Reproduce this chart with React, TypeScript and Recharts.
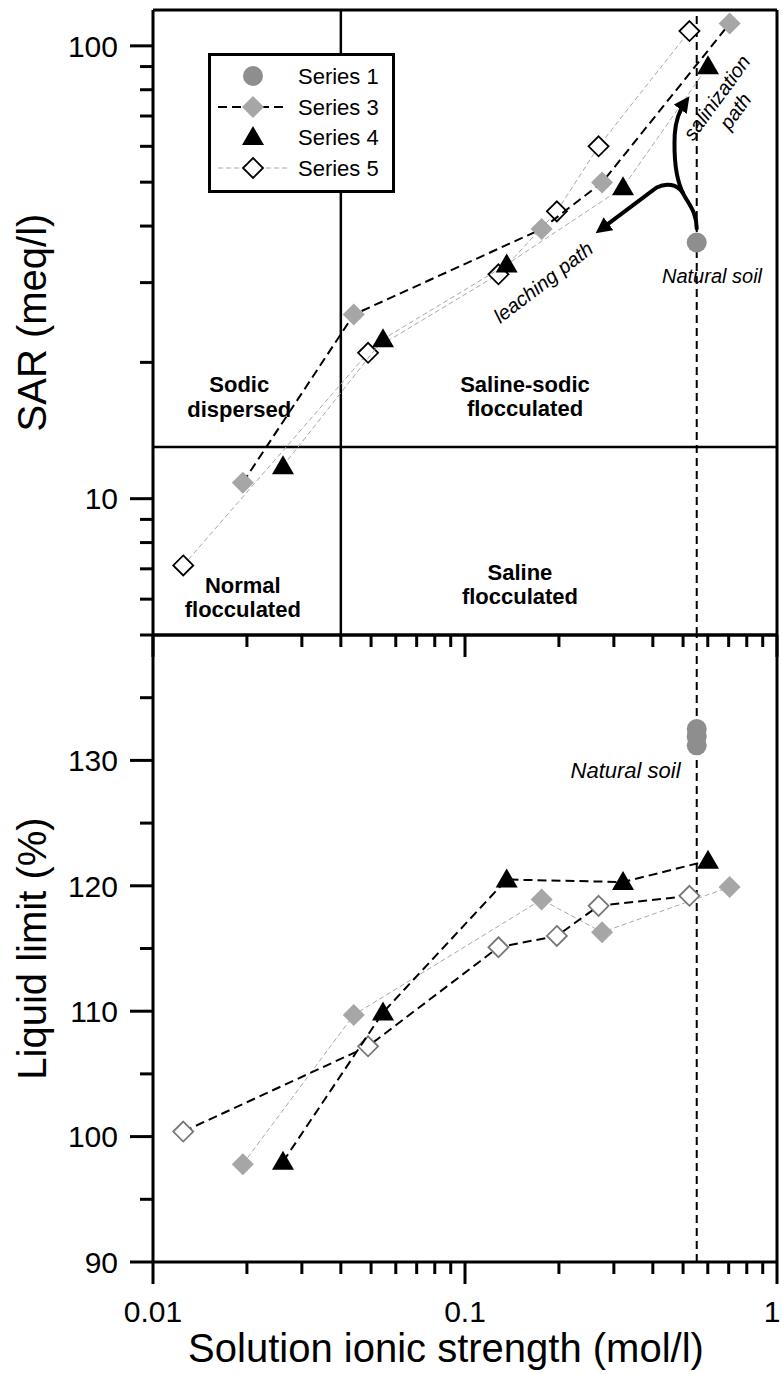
import React from "react";
import { ScatterChart, Scatter, XAxis, YAxis, ReferenceLine, ReferenceDot, Legend } from "recharts";

const FONT = '"Liberation Sans", Arial, sans-serif';

// solution ionic strength (mol/l) of each series
const ionicS1 = [0.553];
const ionicS3 = [0.0194, 0.044, 0.176, 0.275, 0.705];
const ionicS4 = [0.0261, 0.0546, 0.136, 0.321, 0.601];
const ionicS5 = [0.0125, 0.0489, 0.128, 0.197, 0.268, 0.524];

// SAR (meq/l), upper panel
const sarS1 = [36.8];
const sarS3 = [10.85, 25.5, 39.4, 49.9, 112];
const sarS4 = [11.8, 22.5, 32.9, 48.7, 90.2];
const sarS5 = [7.12, 21.0, 31.3, 43.1, 60, 107.8];

// liquid limit (%), lower panel
const llS1 = [132.5, 131.9, 131.2];
const llS3 = [97.8, 109.7, 118.9, 116.3, 119.9];
const llS4 = [98.0, 109.9, 120.5, 120.3, 122.0];
const llS5 = [100.4, 107.2, 115.1, 116.0, 118.4, 119.2];

const xTicks = [0.01, 0.02, 0.03, 0.04, 0.05, 0.06, 0.07, 0.08, 0.09, 0.1, 0.2, 0.3, 0.4, 0.5, 0.6, 0.7, 0.8, 0.9, 1];
const xMajor = [0.01, 0.1, 1];
const sarTicks = [5, 6, 7, 8, 9, 10, 20, 30, 40, 50, 60, 70, 80, 90, 100];
const sarMajor = [10, 100];
const llTicks = [90, 95, 100, 105, 110, 115, 120, 125, 130, 135];
const llMajor = [90, 100, 110, 120, 130];

// region boundaries
const sarLimit = 13;
const ionicLimit = 0.04;

const pts = (xs: number[], ys: number[]) => ys.map((y, i) => ({ x: xs[i], y }));

const top1 = pts(ionicS1, sarS1);
const top3 = pts(ionicS3, sarS3);
const top4 = pts(ionicS4, sarS4);
const top5 = pts(ionicS5, sarS5);
const bot1 = llS1.map((y) => ({ x: ionicS1[0], y }));
const bot3 = pts(ionicS3, llS3);
const bot4 = pts(ionicS4, llS4);
const bot5 = pts(ionicS5, llS5);

const dashBlack = { stroke: "#000", strokeWidth: 2, strokeDasharray: "9 5" };
const dashGray = { stroke: "#a8a8a8", strokeWidth: 1, strokeDasharray: "5 3" };

const GrayCircle = (p: any) => <circle cx={p.cx} cy={p.cy} r={10} fill="#8e8e8e" />;
const GrayDiamond = (p: any) => (
  <polygon points={`${p.cx},${p.cy - 11} ${p.cx + 11},${p.cy} ${p.cx},${p.cy + 11} ${p.cx - 11},${p.cy}`} fill="#a6a6a6" />
);
const Triangle = (p: any) => (
  <polygon points={`${p.cx},${p.cy - 11} ${p.cx + 11},${p.cy + 8} ${p.cx - 11},${p.cy + 8}`} fill="#000" />
);
const openDiamond = (stroke: string) => (p: any) => (
  <polygon
    points={`${p.cx},${p.cy - 10} ${p.cx + 10},${p.cy} ${p.cx},${p.cy + 10} ${p.cx - 10},${p.cy}`}
    fill="#fff"
    stroke={stroke}
    strokeWidth={1.8}
  />
);

const xTick = (labels: boolean) => (props: any) => {
  const { x, y, payload } = props;
  const major = xMajor.some((v) => Math.abs(v - payload.value) < 1e-9);
  // keep the last label ("1") inside the picture
  const lx = Math.min(x, 772);
  return (
    <g>
      <line x1={x} y1={y} x2={x} y2={y + (major ? 22 : 12)} stroke="#000" strokeWidth={3} />
      {labels && major && (
        <text x={lx} y={y + 60} textAnchor="middle" fontSize={30} fontFamily={FONT} fill="#000">
          {payload.value}
        </text>
      )}
    </g>
  );
};

const yTick = (majors: number[]) => (props: any) => {
  const { x, y, payload } = props;
  const major = majors.includes(payload.value);
  return (
    <g>
      <line x1={x - (major ? 23 : 13)} y1={y} x2={x} y2={y} stroke="#000" strokeWidth={3} />
      {major && (
        <text x={x - 35} y={y} dy="0.36em" textAnchor="end" fontSize={30} fontFamily={FONT} fill="#000">
          {payload.value}
        </text>
      )}
    </g>
  );
};

const yTitle = (text: string) => (p: any) => {
  const vb = p.viewBox;
  return (
    <text
      transform={`translate(32,${vb.y + vb.height / 2}) rotate(-90)`}
      textAnchor="middle"
      dominantBaseline="central"
      fontSize={40}
      fontFamily={FONT}
      fill="#000"
    >
      {text}
    </text>
  );
};

const xTitle = (p: any) => {
  const vb = p.viewBox;
  return (
    <text x={vb.x + vb.width / 2 - 19} y={vb.y + 100} textAnchor="middle" fontSize={40} fontFamily={FONT} fill="#000">
      Solution ionic strength (mol/l)
    </text>
  );
};

// text annotation drawn at a data position
const note = (lines: string[], o: { size: number; bold?: boolean; italic?: boolean; angle?: number; lh?: number }) => (p: any) => {
  const lh = o.lh ?? o.size * 1.05;
  return (
    <text
      transform={`translate(${p.cx},${p.cy}) rotate(${o.angle ?? 0})`}
      textAnchor="middle"
      fontSize={o.size}
      fontWeight={o.bold ? "bold" : "normal"}
      fontStyle={o.italic ? "italic" : "normal"}
      fontFamily={FONT}
      fill="#000"
    >
      {lines.map((l, i) => (
        <tspan key={i} x={0} y={(i - (lines.length - 1) / 2) * lh + o.size * 0.35}>
          {l}
        </tspan>
      ))}
    </text>
  );
};

// leaching / salinization arrows starting at the natural soil point
const pathArrows = (p: any) => (
  <g transform={`translate(${p.cx},${p.cy})`} fill="none" stroke="#000" strokeWidth={4} strokeLinecap="round">
    <defs>
      <marker id="ah" viewBox="0 0 10 10" refX="6" refY="5" markerWidth="4" markerHeight="4" orient="auto">
        <path d="M0,0 L10,5 L0,10 z" fill="#000" stroke="none" />
      </marker>
    </defs>
    <path d="M0,-14 C0,-32 -10,-40 -15,-52 C-21,-66 -23,-85 -22,-108 C-21,-124 -16,-134 -11,-141" markerEnd="url(#ah)" />
    <path d="M-14,-50 C-20,-58 -30,-60 -40,-55 L-96,-13" markerEnd="url(#ah)" />
  </g>
);

const legendRows = [
  { name: "Series 1", y: 23, Mark: GrayCircle, line: null as any },
  { name: "Series 3", y: 54, Mark: GrayDiamond, line: dashBlack },
  { name: "Series 4", y: 84, Mark: Triangle, line: null as any },
  { name: "Series 5", y: 115, Mark: openDiamond("#000"), line: dashGray },
];

const LegendBox = () => (
  <svg width={187} height={140} style={{ display: "block" }}>
    <rect x={1.5} y={1.5} width={184} height={137} fill="#fff" stroke="#000" strokeWidth={3} />
    {legendRows.map((r) => (
      <g key={r.name}>
        {r.line && <line x1={10} x2={80} y1={r.y} y2={r.y} {...r.line} />}
        <r.Mark cx={45} cy={r.y} />
        <text x={90} y={r.y + 8} fontSize={22} fontFamily={FONT} fill="#000">
          {r.name}
        </text>
      </g>
    ))}
  </svg>
);

export default function App() {
  return (
    <div style={{ position: "absolute", left: 0, top: 0, width: 782, height: 1374, background: "#fff" }}>
      <div style={{ position: "absolute", left: 0, top: 0 }}>
        <ScatterChart width={782} height={700} margin={{ top: 10, right: 5, bottom: 35, left: 123 }}>
          <XAxis
            type="number"
            dataKey="x"
            scale="log"
            domain={[0.01, 1]}
            allowDataOverflow
            ticks={xTicks}
            interval={0}
            height={30}
            tickSize={0}
            tickMargin={0}
            tickLine={false}
            tick={xTick(false)}
            axisLine={{ stroke: "#000", strokeWidth: 3 }}
          />
          <YAxis
            type="number"
            dataKey="y"
            scale="log"
            domain={[5, 120]}
            allowDataOverflow
            ticks={sarTicks}
            interval={0}
            width={30}
            tickSize={0}
            tickMargin={0}
            tickLine={false}
            tick={yTick(sarMajor)}
            axisLine={{ stroke: "#000", strokeWidth: 3 }}
            label={{ content: yTitle("SAR (meq/l)") }}
          />
          <ReferenceLine y={120} stroke="#000" strokeWidth={3} />
          <ReferenceLine x={1} stroke="#000" strokeWidth={3} />
          <ReferenceLine y={sarLimit} stroke="#000" strokeWidth={2.5} />
          <ReferenceLine x={ionicLimit} stroke="#000" strokeWidth={2.5} />
          <ReferenceLine x={ionicS1[0]} stroke="#000" strokeWidth={2} strokeDasharray="8 5" />
          <Scatter data={top5} shape={openDiamond("#000")} line={dashGray} lineType="joint" isAnimationActive={false} />
          <Scatter data={top4} shape={Triangle} line={dashGray} lineType="joint" isAnimationActive={false} />
          <Scatter data={top3} shape={GrayDiamond} line={dashBlack} lineType="joint" isAnimationActive={false} />
          <Scatter data={top1} shape={GrayCircle} isAnimationActive={false} />
          <ReferenceDot x={0.0189} y={16.8} r={0} shape={note(["Sodic", "dispersed"], { size: 22, bold: true, lh: 25 })} />
          <ReferenceDot x={0.0194} y={6.05} r={0} shape={note(["Normal", "flocculated"], { size: 22, bold: true, lh: 24 })} />
          <ReferenceDot x={0.1557} y={16.8} r={0} shape={note(["Saline-sodic", "flocculated"], { size: 22, bold: true, lh: 24 })} />
          <ReferenceDot x={0.15} y={6.47} r={0} shape={note(["Saline", "flocculated"], { size: 22, bold: true, lh: 24 })} />
          <ReferenceDot x={0.619} y={31} r={0} shape={note(["Natural soil"], { size: 20, italic: true })} />
          <ReferenceDot x={0.178} y={30.06} r={0} shape={note(["leaching path"], { size: 20, italic: true, angle: -37.5 })} />
          <ReferenceDot x={0.686} y={74.3} r={0} shape={note(["salinization", "path"], { size: 20, italic: true, angle: -54, lh: 23 })} />
          <ReferenceDot x={ionicS1[0]} y={sarS1[0]} r={0} shape={pathArrows} />
          <Legend
            verticalAlign="middle"
            align="center"
            wrapperStyle={{ position: "absolute", left: 208, top: 53, width: 187, height: 140 }}
            content={() => <LegendBox />}
          />
        </ScatterChart>
      </div>
      <div style={{ position: "absolute", left: 0, top: 600 }}>
        <ScatterChart width={782} height={774} margin={{ top: 35, right: 5, bottom: 82, left: 123 }}>
          <XAxis
            type="number"
            dataKey="x"
            scale="log"
            domain={[0.01, 1]}
            allowDataOverflow
            ticks={xTicks}
            interval={0}
            height={30}
            tickSize={0}
            tickMargin={0}
            tickLine={false}
            tick={xTick(true)}
            axisLine={{ stroke: "#000", strokeWidth: 3 }}
            label={{ content: xTitle }}
          />
          <YAxis
            type="number"
            dataKey="y"
            domain={[90, 140]}
            allowDataOverflow
            ticks={llTicks}
            interval={0}
            width={30}
            tickSize={0}
            tickMargin={0}
            tickLine={false}
            tick={yTick(llMajor)}
            axisLine={{ stroke: "#000", strokeWidth: 3 }}
            label={{ content: yTitle("Liquid limit (%)") }}
          />
          <ReferenceLine y={140} stroke="#000" strokeWidth={3} />
          <ReferenceLine x={1} stroke="#000" strokeWidth={3} />
          <ReferenceLine x={ionicS1[0]} stroke="#000" strokeWidth={2} strokeDasharray="8 5" />
          <Scatter data={bot3} shape={GrayDiamond} line={dashGray} lineType="joint" isAnimationActive={false} />
          <Scatter data={bot5} shape={openDiamond("#777")} line={dashBlack} lineType="joint" isAnimationActive={false} />
          <Scatter data={bot4} shape={Triangle} line={dashBlack} lineType="joint" isAnimationActive={false} />
          <Scatter data={bot1} shape={GrayCircle} isAnimationActive={false} />
          <ReferenceDot x={0.327} y={129.2} r={0} shape={note(["Natural soil"], { size: 22, italic: true })} />
        </ScatterChart>
      </div>
    </div>
  );
}
